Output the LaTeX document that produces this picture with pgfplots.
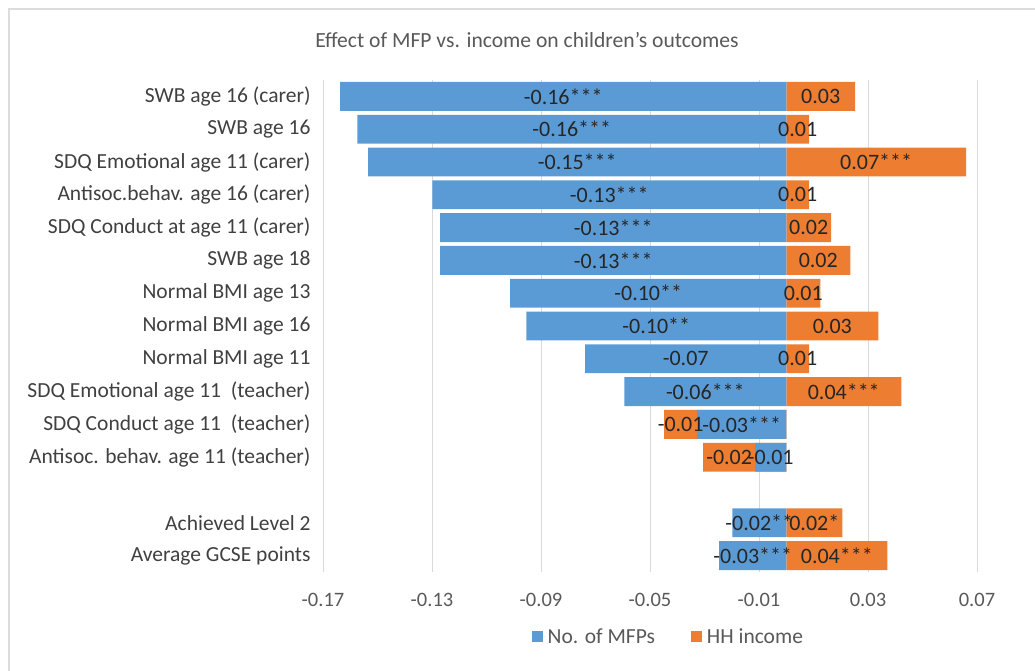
\documentclass[border=0pt]{standalone}
\usepackage{fontspec}
\setmainfont{Carlito}
\usepackage{pgfplots}
\usepackage{pgfplotstable}
\pgfplotsset{compat=1.18}
\definecolor{mblue}{HTML}{5B9BD5}
\definecolor{morange}{HTML}{ED7D31}
\definecolor{gridc}{HTML}{D9D9D9}
\definecolor{txtc}{HTML}{595959}
\definecolor{lblc}{HTML}{404040}
\definecolor{valc}{HTML}{262626}
\definecolor{borderc}{HTML}{DCDCDC}

% idx  blue  orange  oend (extent of the orange bar, stacked after blue when negative)
\pgfplotstableread{
idx blue orange oend bl ol
0 -0.1637 0.0253 0.0253 -0.16*** 0.03
1 -0.1574 0.0084 0.0084 -0.16*** 0.01
2 -0.1534 0.0660 0.0660 -0.15*** 0.07***
3 -0.1299 0.0084 0.0084 -0.13*** 0.01
4 -0.1270 0.0165 0.0165 -0.13*** 0.02
5 -0.1270 0.0235 0.0235 -0.13*** 0.02
6 -0.1013 0.0125 0.0125 -0.10** 0.01
7 -0.0954 0.0338 0.0338 -0.10** 0.03
8 -0.0738 0.0084 0.0084 -0.07 0.01
9 -0.0594 0.0422 0.0422 -0.06*** 0.04***
10 -0.0327 -0.0121 -0.0448 -0.03*** -0.01
11 -0.0114 -0.0191 -0.0305 -0.01 -0.02
13 -0.0198 0.0206 0.0206 -0.02** 0.02*
14 -0.0246 0.0371 0.0371 -0.03*** 0.04***
}\data

\begin{document}
\begin{tikzpicture}
\useasboundingbox (0,0) rectangle (1035bp,671bp);
\draw[borderc, line width=2bp] (9bp,0) -- (9bp,662bp) -- (1035bp,662bp);
\node[color=txtc, font=\fontsize{21.6bp}{25bp}\selectfont] at (527bp,631bp) {Effect of MFP vs. income on children's outcomes};
\begin{axis}[
  at={(323bp,99bp)}, anchor=south west,
  width=654bp, height=492bp, scale only axis,
  xmin=-0.17, xmax=0.07, ymin=-0.5, ymax=14.5, y dir=reverse,
  xtick={-0.17,-0.13,-0.09,-0.05,-0.01,0.03,0.07},
  xticklabels={-0.17,-0.13,-0.09,-0.05,-0.01,0.03,0.07},
  ytick={0,1,2,3,4,5,6,7,8,9,10,11,13,14},
  yticklabels={SWB age 16 (carer),SWB age 16,SDQ Emotional age 11 (carer),Antisoc.behav. age 16 (carer),SDQ Conduct at age 11 (carer),SWB age 18,Normal BMI age 13,Normal BMI age 16,Normal BMI age 11,SDQ Emotional age 11~ (teacher),SDQ Conduct age 11~ (teacher),Antisoc. behav. age 11 (teacher),Achieved Level 2,Average GCSE points},
  xmajorgrids, grid style={gridc, line width=1bp},
  axis line style={draw=none},
  major tick length=0pt,
  xticklabel style={font=\fontsize{20.5bp}{24bp}\selectfont, color=txtc, yshift=-18bp},
  yticklabel style={font=\fontsize{21.5bp}{25bp}\selectfont, color=lblc, xshift=-9bp},
  legend style={at={(0.528,-0.132)}, anchor=center, draw=none, legend columns=2,
    font=\fontsize{21.5bp}{25bp}\selectfont, text=txtc,
    /tikz/every even column/.append style={column sep=34bp}},
  legend image code/.code={\fill[#1] (0bp,-5.5bp) rectangle (11bp,5.5bp);\path (0bp,0bp) -- (14bp,0bp);},
]
\addlegendimage{fill=mblue, draw=none}
\addlegendentry{No. of MFPs}
\addlegendimage{fill=morange, draw=none}
\addlegendentry{HH income}
\addplot[xbar, bar width=0.88, bar shift=0pt, fill=morange, draw=none, forget plot] table[x=oend, y=idx] {\data};
\addplot[xbar, bar width=0.88, bar shift=0pt, fill=mblue, draw=none, forget plot] table[x=blue, y=idx] {\data};
\addplot[draw=none, fill=none, mark=*, mark size=0pt, forget plot,
  nodes near coords, point meta=explicit symbolic,
  nodes near coords style={anchor=center, color=valc, font=\fontsize{22bp}{26bp}\selectfont}]
  table[x expr=\thisrow{blue}/2, y=idx, meta=bl] {\data};
\addplot[draw=none, fill=none, mark=*, mark size=0pt, forget plot,
  nodes near coords, point meta=explicit symbolic,
  nodes near coords style={anchor=center, color=valc, font=\fontsize{22bp}{26bp}\selectfont}]
  table[x expr=\thisrow{oend}-\thisrow{orange}/2, y=idx, meta=ol] {\data};
\end{axis}
\end{tikzpicture}
\end{document}
